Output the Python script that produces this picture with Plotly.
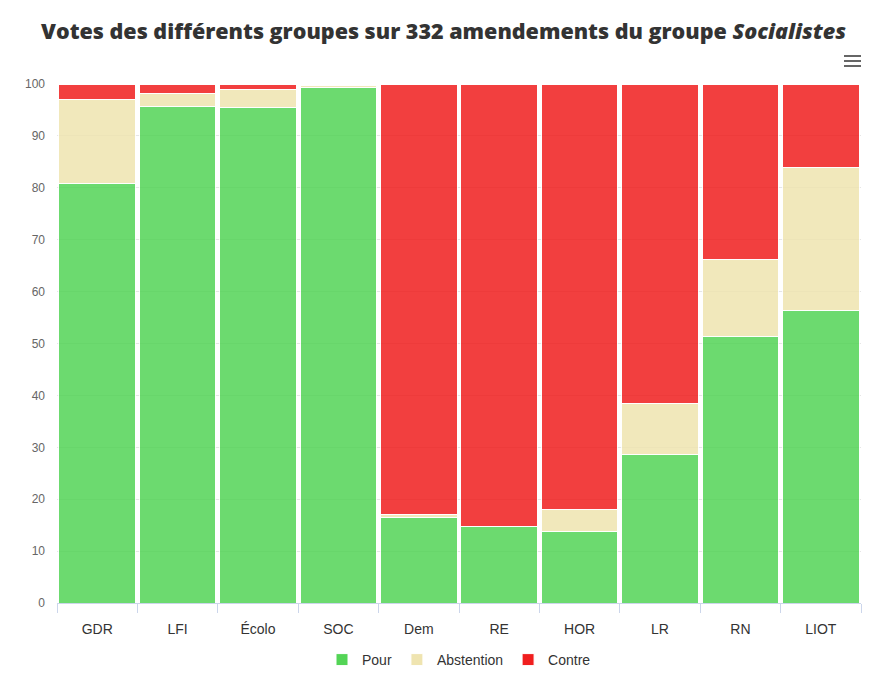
import plotly.graph_objects as go

groups = ["GDR", "LFI", "Écolo", "SOC", "Dem", "RE", "HOR", "LR", "RN", "LIOT"]
pour = [80.9, 95.6, 95.4, 99.4, 16.5, 14.7, 13.8, 28.6, 51.4, 56.3]
abstention = [16.2, 2.5, 3.6, 0.3, 0.6, 0.0, 4.3, 9.9, 14.8, 27.6]
contre = [2.9, 1.9, 1.0, 0.3, 82.9, 85.3, 81.9, 61.5, 33.8, 16.1]

series = [
    ("Pour", pour, "rgb(83,212,86)"),
    ("Abstention", abstention, "rgb(239,228,176)"),
    ("Contre", contre, "rgb(240,30,30)"),
]

fig = go.Figure()
for name, vals, col in series:
    fig.add_trace(go.Bar(
        x=groups, y=vals, name=name,
        marker=dict(color=col, opacity=0.85, line=dict(color="white", width=1)),
    ))

W, H = 887, 694
ml, mr, mt, mb = 57, 26, 84, 91
pw = W - ml - mr
ph = H - mt - mb

def px(x):
    return (x - ml) / pw

def py(y):
    return (H - mb - y) / ph

shapes = []
for yy in (56, 61, 66):
    shapes.append(dict(type="line", xref="paper", yref="paper",
                       x0=px(844), x1=px(861), y0=py(yy), y1=py(yy),
                       line=dict(color="#666666", width=2)))

fig.update_layout(
    width=W, height=H,
    barmode="stack",
    bargap=0.045,
    margin=dict(l=ml, r=mr, t=mt, b=mb, autoexpand=False),
    plot_bgcolor="white", paper_bgcolor="white",
    title=dict(text="Votes des différents groupes sur 332 amendements du groupe <i>Socialistes</i>",
               x=0.5, xanchor="center", y=1 - 31 / H, yanchor="middle",
               font=dict(family="Open Sans", size=21.5, color="#333333", weight=800)),
    font=dict(family="Liberation Sans, Arial, sans-serif", color="#333333"),
    legend=dict(orientation="h", x=0.5, xanchor="center", y=py(660), yanchor="middle",
                font=dict(size=14, color="#333333"), itemwidth=30, traceorder="normal"),
    xaxis=dict(type="category", tickson="boundaries", ticks="outside", ticklen=9,
               tickcolor="#ccd6eb", showline=True, linecolor="#ccd6eb", linewidth=1,
               tickfont=dict(size=14, color="#333333"), showgrid=False,
               ticklabelstandoff=13, automargin=False),
    yaxis=dict(range=[0, 100], dtick=10, showgrid=True, gridcolor="#e6e6e6",
               zeroline=False, tickfont=dict(size=12, color="#666666"),
               ticks="", ticklabelstandoff=11, fixedrange=True, automargin=False),
    shapes=shapes,
    showlegend=True,
)

fig.write_html(
    "out.html",
    config={"displayModeBar": False},
    post_script="document.body.style.margin='0';document.body.style.padding='0';",
)
